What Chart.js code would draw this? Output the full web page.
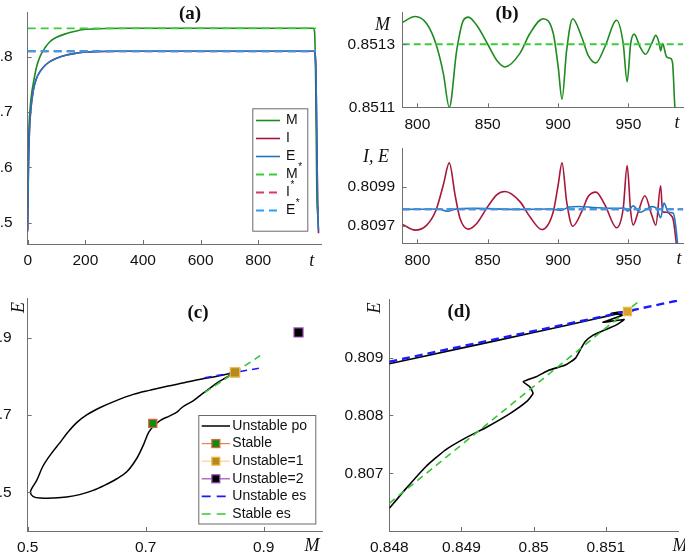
<!DOCTYPE html>
<html>
<head>
<meta charset="utf-8">
<title>Figure</title>
<script src="https://cdn.jsdelivr.net/npm/chart.js@4.4.1/dist/chart.umd.min.js"></script>
<style>
    html, body { margin: 0; padding: 0; background: #ffffff; overflow: hidden; }
    #fig { position: relative; width: 685px; height: 553px; }
    #fig canvas { position: absolute; left: 0; top: 0; }
</style>
</head>
<body>
<div id="fig">
    <canvas id="chartA" width="685" height="553"></canvas>
    <canvas id="chartB1" width="685" height="553"></canvas>
    <canvas id="chartB2" width="685" height="553"></canvas>
    <canvas id="chartC" width="685" height="553"></canvas>
    <canvas id="chartD" width="685" height="553"></canvas>
</div>
<script>
// ---------------- DATA ----------------
// (a) full run
const aTimeM = [0, 2, 5, 8, 14, 19.5, 30, 42.6, 60, 77, 100, 135, 165, 193, 230, 270, 350, 500, 700, 900, 990, 995, 999, 1003, 1005, 1007];
const aValM  = [0.527, 0.62, 0.68, 0.704, 0.735, 0.752, 0.78, 0.80, 0.816, 0.827, 0.835, 0.842, 0.846, 0.849, 0.8503, 0.851, 0.8513, 0.8513, 0.8513, 0.8513, 0.8513, 0.846, 0.76, 0.56, 0.515, 0.53];
const aTimeIE = [0, 2, 5.7, 10, 19.5, 30, 42.6, 60, 77, 100, 135, 165, 197, 250, 320, 500, 700, 900, 994, 999, 1003, 1006, 1009];
const aValI  = [0.484, 0.578, 0.66, 0.699, 0.739, 0.76, 0.773, 0.784, 0.791, 0.797, 0.803, 0.806, 0.8085, 0.8093, 0.8097, 0.8098, 0.8098, 0.8098, 0.8098, 0.79, 0.66, 0.53, 0.481];
const aValE  = [0.487, 0.58, 0.662, 0.70, 0.74, 0.76, 0.773, 0.784, 0.791, 0.797, 0.803, 0.806, 0.8085, 0.8093, 0.8097, 0.8098, 0.8098, 0.8098, 0.8098, 0.79, 0.66, 0.53, 0.485];
const aStarT = [0, 1000];
const mStar = 0.8513;
const ieStar = 0.809785;
const aTicksX = [0, 200, 400, 600, 800];
const aLabelsX = ['0', '200', '400', '600', '800'];
const aTicksY = [0.5, 0.6, 0.7, 0.8];
const aLabelsY = ['0.5', '0.6', '0.7', '0.8'];

// (b) late window
const bTimeM = [789.6, 798.4, 806.7, 813.3, 818.5, 822.7, 828.0, 832.7, 836.2, 842.2, 850.0, 856.4, 862.3, 872.9, 880.0, 889.5, 896.6, 900.1, 902.8, 906.1, 910.4, 916.8, 921.4, 926.9, 933.3, 941.6, 946.3, 949.1, 951.6, 954.1, 958.2, 962.2, 966.5, 969.5, 971.9, 972.9, 974.3, 977.1, 980.0, 981.4, 983.0, 984.0];
const bValM  = [0.851370, 0.851388, 0.851365, 0.851300, 0.851207, 0.851100, 0.851281, 0.851376, 0.851386, 0.851360, 0.851300, 0.851249, 0.851228, 0.851271, 0.851334, 0.851381, 0.851334, 0.851228, 0.851126, 0.851281, 0.851381, 0.851323, 0.851265, 0.851241, 0.851292, 0.851376, 0.851302, 0.851181, 0.851302, 0.851332, 0.851292, 0.851268, 0.851302, 0.851328, 0.851302, 0.851279, 0.851302, 0.851260, 0.851255, 0.851239, 0.851100, 0.851050];
const bTimeI = [789.6, 798.4, 806.7, 813.3, 818.5, 822.7, 826.8, 830.3, 836.2, 842.2, 850.0, 856.4, 862.3, 872.9, 880.0, 888.4, 896.6, 900.1, 902.8, 906.1, 910.4, 916.8, 921.4, 926.9, 933.3, 941.6, 946.3, 949.1, 951.6, 953.4, 957.0, 961.7, 966.5, 969.5, 972.9, 974.3, 977.1, 980.0, 981.9, 984.2, 985.0];
const bValI  = [0.809707, 0.809678, 0.809704, 0.809782, 0.809912, 0.810025, 0.809860, 0.809739, 0.809683, 0.809712, 0.809799, 0.809860, 0.809877, 0.809825, 0.809747, 0.809681, 0.809773, 0.809912, 0.810025, 0.809825, 0.809698, 0.809773, 0.809851, 0.809874, 0.809808, 0.809690, 0.809790, 0.810011, 0.809773, 0.809704, 0.809773, 0.809855, 0.809757, 0.809704, 0.809907, 0.809773, 0.809770, 0.809756, 0.809730, 0.809600, 0.809550];
const bTimeE = [789.6, 815.0, 822.0, 826.0, 840.0, 870.0, 895.0, 902.0, 908.0, 915.0, 925.0, 940.0, 947.0, 949.5, 953.4, 958.2, 962.0, 966.5, 970.0, 972.9, 975.3, 978.4, 981.9, 983.6, 985.0];
const bValE  = [0.809785, 0.809787, 0.809775, 0.809785, 0.809790, 0.809785, 0.809787, 0.809780, 0.809797, 0.809800, 0.809795, 0.809790, 0.809792, 0.809776, 0.809803, 0.809770, 0.809782, 0.809799, 0.809790, 0.809742, 0.809817, 0.809770, 0.809765, 0.809700, 0.809600];
const bStarT = [789.6, 989];
const bTicksX = [800, 850, 900, 950];
const bLabelsX = ['800', '850', '900', '950'];
const b1TicksY = [0.8511, 0.8513];
const b1LabelsY = ['0.8511', '0.8513'];
const b2TicksY = [0.8097, 0.8099];
const b2LabelsY = ['0.8097', '0.8099'];

// (c) phase plane
const cLoopM = [0.8513, 0.836, 0.821, 0.808, 0.798, 0.781, 0.766, 0.759, 0.753, 0.740, 0.725, 0.714, 0.705, 0.696, 0.685, 0.668, 0.651, 0.630, 0.611, 0.588, 0.566, 0.545, 0.521, 0.5095, 0.5045, 0.507, 0.515, 0.526, 0.540, 0.555, 0.568, 0.583, 0.600, 0.623, 0.650, 0.679, 0.708, 0.736, 0.765, 0.793, 0.821, 0.8513];
const cLoopE = [0.8098, 0.796, 0.783, 0.768, 0.757, 0.737, 0.724, 0.716, 0.707, 0.697, 0.686, 0.672, 0.655, 0.622, 0.588, 0.553, 0.535, 0.518, 0.505, 0.494, 0.488, 0.4855, 0.485, 0.489, 0.499, 0.510, 0.530, 0.568, 0.600, 0.629, 0.655, 0.680, 0.700, 0.719, 0.737, 0.753, 0.764, 0.774, 0.783, 0.792, 0.800, 0.8098];
const cStable = [0.712, 0.678];
const cUnstable1 = [0.8513, 0.8098];
const cUnstable2 = [0.959, 0.913];
const cUnstEsM = [0.800, 0.900];
const cUnstEsE = [0.7962, 0.8227];
const cStabEsM = [0.800, 0.894];
const cStabEsE = [0.7578, 0.8531];
const cTicks = [0.5, 0.7, 0.9];
const cLabels = ['0.5', '0.7', '0.9'];

// (d) close-up near the saddle
const dCurveM = [0.848000, 0.848234, 0.848505, 0.848775, 0.849045, 0.849360, 0.849676, 0.849901, 0.849991, 0.849946, 0.849856, 0.850036, 0.850216, 0.850441, 0.850577, 0.850644, 0.850712, 0.850824, 0.850982, 0.851140, 0.851253, 0.850960, 0.851230, 0.851073, 0.851390, 0.851300, 0.850800, 0.850000, 0.849000, 0.848000];
const dCurveE = [0.806392, 0.806738, 0.807113, 0.807401, 0.807603, 0.807805, 0.808036, 0.808238, 0.808382, 0.808497, 0.808584, 0.808670, 0.808785, 0.808872, 0.808987, 0.809131, 0.809276, 0.809390, 0.809478, 0.809564, 0.809662, 0.809611, 0.809737, 0.809766, 0.809820, 0.809800, 0.809655, 0.809435, 0.809165, 0.808895];
const dUnstEsM = [0.848, 0.852];
const dUnstEsE = [0.80893, 0.80999];
const dStabEsM = [0.848, 0.85152];
const dStabEsE = [0.80648, 0.81004];
const dTicksX = [0.848, 0.849, 0.85, 0.851];
const dLabelsX = ['0.848', '0.849', '0.85', '0.851'];
const dTicksY = [0.807, 0.808, 0.809];
const dLabelsY = ['0.807', '0.808', '0.809'];

// ---------------- STYLE ----------------
const SANS = '"Liberation Sans", Arial, sans-serif';
const BOLD = 'bold 19px "Liberation Serif", serif';
const ITAL = 'italic 18px "Liberation Serif", serif';
const AXIS = '#707070';
const INK = '#111111';

Chart.defaults.font.family = SANS;
Chart.defaults.animation = false;

const pts = (xs, ys) => xs.map((x, i) => ({ x: x, y: ys[i] }));

// ---------------- HELPERS ----------------
// opt.size = width (y) or height (x) of the axis box; labels are clipped to it
function axis(opt) {
    return {
        type: 'linear',
        min: opt.min,
        max: opt.max,
        grid: { display: false, drawTicks: false },
        border: { display: true, color: AXIS, width: 1 },
        ticks: {
            padding: opt.pad,
            color: INK,
            font: { size: 15.5 },
            autoSkip: false,
            maxRotation: 0,
            callback: (v, i) => opt.labels[i]
        },
        afterBuildTicks: s => { s.ticks = opt.ticks.map(v => ({ value: v })); },
        afterFit: s => {
            if (opt.horiz) s.height = opt.size; else s.width = opt.size;
            s.paddingTop = 0; s.paddingBottom = 0; s.paddingLeft = 0; s.paddingRight = 0;
        }
    };
}

function line(data, color, width, dash, order, extra) {
    return Object.assign({
        data: data,
        borderColor: color,
        backgroundColor: color,
        borderWidth: width,
        borderDash: dash || [],
        pointRadius: 0,
        pointHoverRadius: 0,
        fill: false,
        tension: 0,
        order: order
    }, extra || {});
}

function marker(xy, lineColor, fill, edge, r, order, label) {
    return {
        label: label,
        data: [{ x: xy[0], y: xy[1] }],
        showLine: false,
        borderColor: lineColor,
        borderWidth: 1.2,
        pointStyle: 'rect',
        pointRadius: r,
        pointHoverRadius: r,
        pointBackgroundColor: fill,
        pointBorderColor: edge,
        pointBorderWidth: 1.2,
        order: order
    };
}

// ---------------- PLUGINS ----------------
const inwardTicks = {
    id: 'inwardTicks',
    afterDatasetsDraw(chart) {
        const { ctx, chartArea: a, scales } = chart;
        ctx.save();
        ctx.strokeStyle = AXIS;
        ctx.lineWidth = 1;
        ctx.beginPath();
        scales.x.ticks.forEach(t => {
            const p = Math.round(scales.x.getPixelForValue(t.value)) + 0.5;
            ctx.moveTo(p, a.bottom);
            ctx.lineTo(p, a.bottom - 4);
        });
        scales.y.ticks.forEach(t => {
            const p = Math.round(scales.y.getPixelForValue(t.value)) + 0.5;
            ctx.moveTo(a.left, p);
            ctx.lineTo(a.left + 4, p);
        });
        ctx.stroke();
        ctx.restore();
    }
};

function textLayer(items) {
    return {
        id: 'textLayer',
        afterDraw(chart) {
            const ctx = chart.ctx;
            items.forEach(t => {
                ctx.save();
                ctx.font = t.font;
                ctx.fillStyle = INK;
                ctx.textAlign = 'center';
                ctx.textBaseline = 'middle';
                ctx.translate(t.x, t.y);
                if (t.rot) ctx.rotate(t.rot);
                ctx.fillText(t.text, 0, 0);
                ctx.restore();
            });
        }
    };
}

function boxLegend(box) {
    return {
        id: 'boxLegend',
        afterDraw(chart) {
            const ctx = chart.ctx;
            ctx.save();
            ctx.fillStyle = '#ffffff';
            ctx.fillRect(box.x, box.y, box.w, box.h);
            ctx.strokeStyle = '#6a6a6a';
            ctx.lineWidth = 1;
            ctx.strokeRect(box.x + 0.5, box.y + 0.5, box.w, box.h);
            box.rows.forEach((idx, k) => {
                const ds = chart.data.datasets[idx];
                const y = box.firstRow + k * box.rowH;
                ctx.strokeStyle = ds.borderColor;
                ctx.lineWidth = ds.legendWidth || ds.borderWidth;
                ctx.setLineDash(ds.legendDash || ds.borderDash || []);
                ctx.beginPath();
                ctx.moveTo(box.lineX, y);
                ctx.lineTo(box.lineX + box.lineLen, y);
                ctx.stroke();
                ctx.setLineDash([]);
                if (ds.pointRadius > 0) {
                    const s = box.markSize;
                    const cx = box.lineX + box.lineLen / 2;
                    ctx.fillStyle = ds.pointBackgroundColor;
                    ctx.fillRect(cx - s / 2, y - s / 2, s, s);
                    ctx.strokeStyle = ds.pointBorderColor;
                    ctx.lineWidth = 1.2;
                    ctx.strokeRect(cx - s / 2, y - s / 2, s, s);
                }
                ctx.fillStyle = INK;
                ctx.font = box.font;
                ctx.textAlign = 'left';
                ctx.textBaseline = 'middle';
                ctx.fillText(ds.label, box.textX, y);
                if (ds.sup) {
                    const w = ctx.measureText(ds.label).width;
                    ctx.font = '10px ' + SANS;
                    ctx.fillText(ds.sup, box.textX + w + 0.5, y - 7);
                }
            });
            ctx.restore();
        }
    };
}

function makeChart(id, datasets, scales, pad, plugins) {
    return new Chart(document.getElementById(id), {
        type: 'line',
        data: { datasets: datasets },
        options: {
            responsive: false,
            devicePixelRatio: 1,
            animation: false,
            events: [],
            layout: { padding: pad },
            plugins: { legend: { display: false }, tooltip: { enabled: false }, title: { display: false } },
            scales: scales
        },
        plugins: [inwardTicks].concat(plugins)
    });
}

// ---------------- COLOURS ----------------
const C_M = '#1f8a1f', C_I = '#a8173a', C_E = '#2177c2';
const C_MS = '#3ccb3c', C_IS = '#d83c62', C_ES = '#2c9ff0';
const C_BLUE = '#1a1aff', C_GREEN = '#33c733';

// ---------------- PANEL (a) ----------------
makeChart('chartA', [
    line(pts(aTimeM, aValM), C_M, 1.6, [], 6, { label: 'M', cubicInterpolationMode: 'monotone' }),
    line(pts(aTimeIE, aValI), C_I, 1.6, [], 5, { label: 'I', cubicInterpolationMode: 'monotone' }),
    line(pts(aTimeIE, aValE), C_E, 1.6, [], 4, { label: 'E', cubicInterpolationMode: 'monotone' }),
    line(pts(aStarT, [mStar, mStar]), C_MS, 1.8, [8, 5], 3, { label: 'M', sup: '*' }),
    line(pts(aStarT, [ieStar, ieStar]), C_IS, 1.8, [8, 5], 2, { label: 'I', sup: '*' }),
    line(pts(aStarT, [ieStar, ieStar]), C_ES, 1.8, [8, 5], 1, { label: 'E', sup: '*' })
], {
    x: axis({ min: 0, max: 1020, ticks: aTicksX, labels: aLabelsX, pad: 7.7, horiz: true, size: 30 }),
    y: axis({ min: 0.4615, max: 0.88, ticks: aTicksY, labels: aLabelsY, pad: 15, size: 27.7 })
}, { left: 0, top: 12.4, right: 363.3, bottom: 279 }, [
    boxLegend({ x: 252.3, y: 108.3, w: 55, h: 122.4, firstRow: 120.5, rowH: 18, lineX: 256, lineLen: 24, textX: 286, markSize: 8, font: '14px ' + SANS, rows: [0, 1, 2, 3, 4, 5] }),
    textLayer([
        { text: '(a)', x: 190, y: 14, font: BOLD },
        { text: 't', x: 311.7, y: 261, font: ITAL }
    ])
]);

// ---------------- PANEL (b) top ----------------
makeChart('chartB1', [
    line(pts(bTimeM, bValM), C_M, 1.6, [], 2, { cubicInterpolationMode: 'monotone' }),
    line(pts(bStarT, [mStar, mStar]), C_MS, 2, [7, 4], 1)
], {
    x: axis({ min: 789.6, max: 989, ticks: bTicksX, labels: bLabelsX, pad: 7.7, horiz: true, size: 30 }),
    y: axis({ min: 0.8511, max: 0.8514, ticks: b1TicksY, labels: b1LabelsY, pad: 7.7, size: 60 })
}, { left: 342.7, top: 12.7, right: 1.7, bottom: 415.7 }, [
    textLayer([
        { text: '(b)', x: 507, y: 14, font: BOLD },
        { text: 'M', x: 382.5, y: 25, font: ITAL },
        { text: 't', x: 677, y: 123, font: ITAL }
    ])
]);

// ---------------- PANEL (b) bottom ----------------
makeChart('chartB2', [
    line(pts(bTimeI, bValI), C_I, 1.6, [], 4, { cubicInterpolationMode: 'monotone' }),
    line(pts(bTimeE, bValE), C_E, 1.6, [], 3, { cubicInterpolationMode: 'monotone' }),
    line(pts(bStarT, [ieStar, ieStar]), C_IS, 2, [7, 4], 2),
    line(pts(bStarT, [ieStar, ieStar]), C_ES, 2, [7, 4], 1)
], {
    x: axis({ min: 789.6, max: 989, ticks: bTicksX, labels: bLabelsX, pad: 7.7, horiz: true, size: 30 }),
    y: axis({ min: 0.80961, max: 0.81010, ticks: b2TicksY, labels: b2LabelsY, pad: 7.7, size: 60 })
}, { left: 342.7, top: 148.3, right: 1.7, bottom: 279.7 }, [
    textLayer([
        { text: 'I, E', x: 376, y: 157.5, font: ITAL },
        { text: 't', x: 679, y: 259, font: ITAL }
    ])
]);

// ---------------- PANEL (c) ----------------
makeChart('chartC', [
    line(pts(cLoopM, cLoopE), '#000000', 1.5, [], 9, { label: 'Unstable po', tension: 0.35 }),
    marker(cStable, '#e8825a', '#138a13', '#e0643a', 5.8, 3, 'Stable'),
    marker(cUnstable1, '#f5d58e', '#b48a1e', '#f0bc48', 6.7, 2, 'Unstable=1'),
    marker(cUnstable2, '#9a52b8', '#000000', '#9a52b8', 6.4, 1, 'Unstable=2'),
    line(pts(cUnstEsM, cUnstEsE), C_BLUE, 1.6, [7, 5], 5, { label: 'Unstable es', legendDash: [9, 6] }),
    line(pts(cStabEsM, cStabEsE), C_GREEN, 1.6, [7, 5], 4, { label: 'Stable es', legendDash: [9, 6] })
], {
    x: axis({ min: 0.5, max: 1.0, ticks: cTicks, labels: cLabels, pad: 7.7, horiz: true, size: 22 }),
    y: axis({ min: 0.4, max: 1.0, ticks: cTicks, labels: cLabels, pad: 16, size: 27.7 })
}, { left: 0, top: 298.8, right: 362.3, bottom: 0 }, [
    boxLegend({ x: 198.3, y: 415, w: 117, h: 108.5, firstRow: 426, rowH: 17.6, lineX: 201.7, lineLen: 28.3, textX: 232.3, markSize: 8, font: '14px ' + SANS, rows: [0, 1, 2, 3, 4, 5] }),
    textLayer([
        { text: '(c)', x: 198, y: 313, font: BOLD },
        { text: 'E', x: 19, y: 307.5, font: ITAL, rot: -Math.PI / 2 },
        { text: 'M', x: 312, y: 546.5, font: ITAL }
    ])
]);

// ---------------- PANEL (d) ----------------
makeChart('chartD', [
    line(pts(dCurveM, dCurveE), '#000000', 1.6, [], 4, { tension: 0.15 }),
    line(pts(dUnstEsM, dUnstEsE), C_BLUE, 2.4, [8, 5], 3),
    line(pts(dStabEsM, dStabEsE), C_GREEN, 1.6, [7, 5], 2),
    marker(cUnstable1, '#f5d58e', '#d8a030', '#f0bc48', 5.8, 1, 'Unstable=1')
], {
    x: axis({ min: 0.848, max: 0.852, ticks: dTicksX, labels: dLabelsX, pad: 7.7, horiz: true, size: 22 }),
    y: axis({ min: 0.806, max: 0.810, ticks: dTicksY, labels: dLabelsY, pad: 6, size: 60 })
}, { left: 329.3, top: 299.9, right: 1.7, bottom: 0 }, [
    textLayer([
        { text: '(d)', x: 459, y: 311.7, font: BOLD },
        { text: 'E', x: 375, y: 308, font: ITAL, rot: -Math.PI / 2 },
        { text: 'M', x: 680, y: 546.5, font: ITAL }
    ])
]);
</script>
</body>
</html>
